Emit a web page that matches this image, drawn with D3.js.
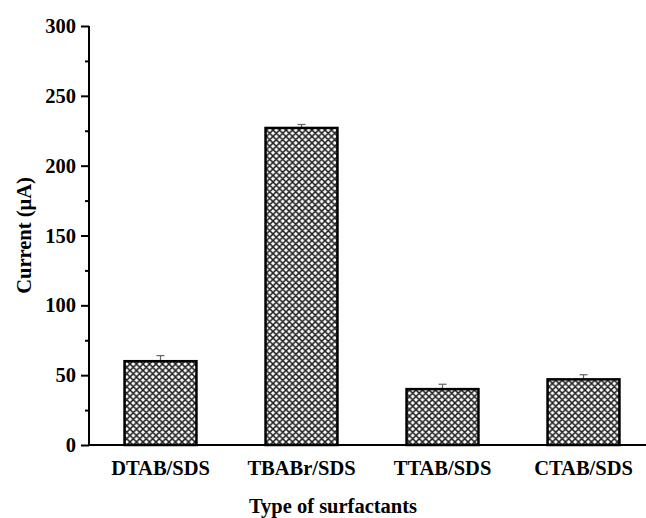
<!DOCTYPE html>
<html>
<head>
<meta charset="utf-8">
<script src="https://cdn.jsdelivr.net/npm/d3@7"></script>
<style>
  html, body { margin: 0; padding: 0; background: #fff; }
  svg { display: block; }
  text { font-family: "Liberation Serif", "Times New Roman", serif; font-weight: bold; fill: #000; }
</style>
</head>
<body>
<svg id="chart" width="646" height="518"></svg>
<script>
// Peak current for each surfactant mixture
const categories = ["DTAB/SDS", "TBABr/SDS", "TTAB/SDS", "CTAB/SDS"];
const currents = [60, 227, 40, 47];
const errors = [4, 2.5, 3.5, 3.3];
const yTicks = [0, 50, 100, 150, 200, 250, 300];
const yMinorTicks = [25, 75, 125, 175, 225, 275];

const svg = d3.select("#chart");
const plotLeft = 89, plotRight = 654, plotTop = 26, plotBottom = 445;
const fontSize = "20.5px";

const x = d3.scaleBand().domain(categories).range([plotLeft + 1, plotRight])
  .paddingInner(0.49).paddingOuter(0.245);
const y = d3.scaleLinear().domain([0, 300]).range([plotBottom, plotTop]);

// Cross-hatch fill
const defs = svg.append("defs");
const pat = defs.append("pattern")
  .attr("id", "xhatch").attr("patternUnits", "userSpaceOnUse")
  .attr("width", 6.5).attr("height", 6.5);
pat.append("rect").attr("width", 6.5).attr("height", 6.5).attr("fill", "#fff");
pat.append("path").attr("d", "M-1,-1 L7.5,7.5 M-1,7.5 L7.5,-1 M-4.25,2.25 L2.25,-4.25 M4.25,10.75 L10.75,4.25 M-4.25,4.25 L2.25,10.75 M4.25,-4.25 L10.75,2.25")
  .attr("stroke", "#222").attr("stroke-width", 1.5);

const data = categories.map((c, i) => ({ c, v: currents[i], e: errors[i] }));

// Error bars (drawn under the bars so only the upper half shows)
const eb = svg.append("g").attr("stroke", "#666").attr("stroke-width", 1.2);
data.forEach(d => {
  const cx = x(d.c) + x.bandwidth() / 2;
  eb.append("line").attr("x1", cx).attr("x2", cx).attr("y1", y(d.v - d.e)).attr("y2", y(d.v + d.e));
  eb.append("line").attr("x1", cx - 4).attr("x2", cx + 4).attr("y1", y(d.v + d.e)).attr("y2", y(d.v + d.e));
});

svg.append("g").selectAll("rect").data(data).join("rect")
  .attr("x", d => x(d.c)).attr("width", x.bandwidth())
  .attr("y", d => y(d.v)).attr("height", d => y(0) - y(d.v))
  .attr("fill", "url(#xhatch)").attr("stroke", "#000").attr("stroke-width", 2.5);

// Y axis: major ticks with labels, minor ticks between
const yAxis = svg.append("g").attr("transform", `translate(${plotLeft},0)`)
  .call(d3.axisLeft(y).tickValues(yTicks).tickSize(8).tickPadding(5).tickFormat(d3.format("d")));
yAxis.select(".domain").attr("stroke-width", 2).attr("d", `M0,${plotTop}V${plotBottom}`);
yAxis.selectAll(".tick line").attr("stroke-width", 2);
yAxis.selectAll("text").style("font-size", fontSize).style("font-family", "'Liberation Serif', serif").style("font-weight", "bold");
svg.append("g").attr("transform", `translate(${plotLeft},0)`)
  .call(d3.axisLeft(y).tickValues(yMinorTicks).tickSize(4).tickFormat(""))
  .call(g => g.select(".domain").remove())
  .selectAll(".tick line").attr("stroke-width", 2);

// X axis: baseline and category labels, no tick marks
const xAxis = svg.append("g").attr("transform", `translate(0,${plotBottom})`)
  .call(d3.axisBottom(x).tickSize(0).tickPadding(15));
xAxis.select(".domain").attr("stroke-width", 2).attr("d", `M${plotLeft},0H646`);
xAxis.selectAll("text").style("font-size", fontSize).style("font-family", "'Liberation Serif', serif").style("font-weight", "bold");

svg.append("text").attr("transform", `translate(31,${(plotTop + plotBottom) / 2}) rotate(-90)`)
  .attr("text-anchor", "middle").style("font-size", fontSize).text("Current (μA)");
svg.append("text").attr("x", 333).attr("y", 513)
  .attr("text-anchor", "middle").style("font-size", fontSize).text("Type of surfactants");
</script>
</body>
</html>
